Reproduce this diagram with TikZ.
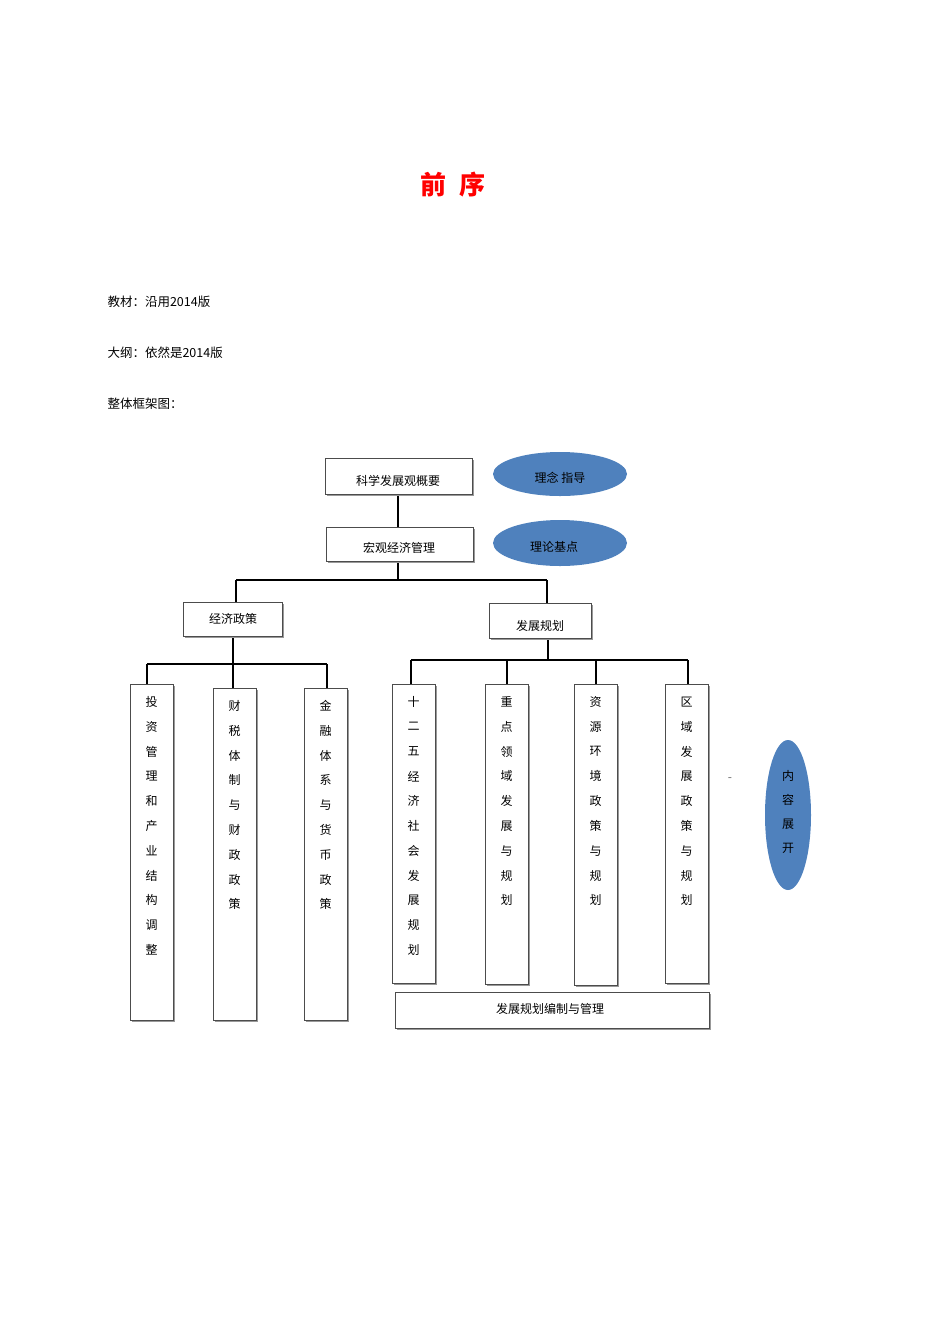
\documentclass[tikz,border=0pt]{standalone}
\usepackage{fontspec}
\setmainfont{Noto Sans CJK SC}
\usetikzlibrary{shadows}
\definecolor{ellblue}{RGB}{79,129,189}
\newcommand{\vertbox}[4]{%
  \draw[box] (#1,#2) rectangle (#1+43,#3);
  \foreach \c [count=\i] in {#4} \node[txt] at (#1+21.5,#2+18+24.8*\i-24.8) {\c};}
\begin{document}
\begin{tikzpicture}[x=1pt,y=-1pt,
  box/.style={draw=black!70,line width=1pt,fill=white,drop shadow={shadow xshift=1.5pt,shadow yshift=-1.5pt,fill=black!40,opacity=1}},
  conn/.style={line width=2pt},
  txt/.style={font=\fontsize{12}{12}\selectfont,inner sep=0pt}]
\useasboundingbox (0,0) rectangle (950,1344);
\node[text=red,font=\fontsize{26}{26}\selectfont\bfseries] (title) at (453,185) {前\hspace{0.5em}序};
\node[anchor=west,font=\fontsize{12.5}{13}\selectfont] (l1) at (104,302) {教材：沿用2014版};
\node[anchor=west,font=\fontsize{12.5}{13}\selectfont] (l2) at (104,353) {大纲：依然是2014版};
\node[anchor=west,font=\fontsize{12.5}{13}\selectfont] (l3) at (104,404) {整体框架图：};
% connectors
\draw[conn] (398,494) -- (398,527);
\draw[conn] (398,561) -- (398,580);
\draw[conn] (236,580) -- (547,580);
\draw[conn] (236,580) -- (236,602);
\draw[conn] (547,580) -- (547,603);
\draw[conn] (233,636) -- (233,664);
\draw[conn] (147,664) -- (327,664);
\foreach \x in {147,233,327} \draw[conn] (\x,664) -- (\x,688);
\draw[conn] (548,638) -- (548,660);
\draw[conn] (411,660) -- (688,660);
\foreach \x in {411,507,596,688} \draw[conn] (\x,660) -- (\x,684);
% boxes
\draw[box] (325,458) rectangle (472,494);
\node[txt] (b1) at (398,481) {科学发展观概要};
\draw[box] (326,527) rectangle (473,561);
\node[txt] (b2) at (399,548) {宏观经济管理};
\draw[box] (183,602) rectangle (282,636);
\node[txt] (b3) at (233,619) {经济政策};
\draw[box] (489,603) rectangle (591,638);
\node[txt] (b4) at (540,626) {发展规划};
\path[fill=ellblue] (560,474) ellipse (67 and 22);
\node[txt] (e1) at (560,478) {理念 指导};
\path[fill=ellblue] (560,543) ellipse (67 and 23);
\node[txt] (e2) at (554,547) {理论基点};
\path[fill=ellblue] (788,815) ellipse (23 and 75);
\foreach \c [count=\i] in {内,容,展,开} \node[txt] (e3\i) at (788,776+24*\i-24) {\c};
\node[txt,text=black!60] (dash) at (730,780) {-};
\vertbox{130}{684}{1020}{投,资,管,理,和,产,业,结,构,调,整}
\vertbox{213}{688}{1020}{财,税,体,制,与,财,政,政,策}
\vertbox{304}{688}{1020}{金,融,体,系,与,货,币,政,策}
\vertbox{392}{684}{983}{十,二,五,经,济,社,会,发,展,规,划}
\vertbox{485}{684}{984}{重,点,领,域,发,展,与,规,划}
\vertbox{574}{684}{985}{资,源,环,境,政,策,与,规,划}
\vertbox{665}{684}{983}{区,域,发,展,政,策,与,规,划}
\draw[box] (395,992) rectangle (709,1028);
\node[txt] (b5) at (550,1009) {发展规划编制与管理};
\end{tikzpicture}
\end{document}
